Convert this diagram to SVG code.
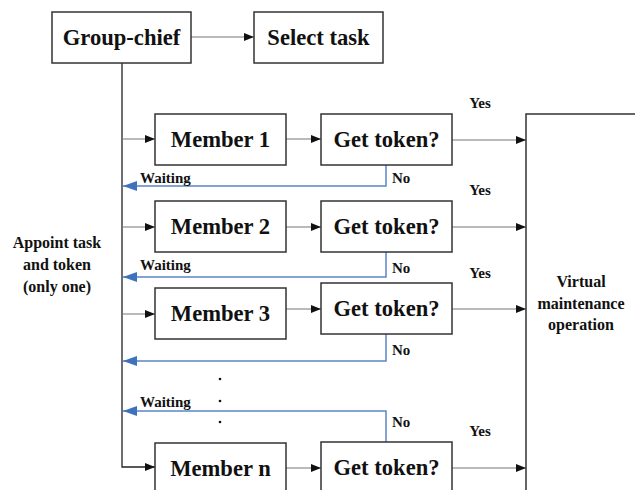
<svg xmlns="http://www.w3.org/2000/svg" width="635" height="490" viewBox="0 0 635 490">
<defs>
<style>
.box{fill:#fff;stroke:#333;stroke-width:1.5}
text{font-family:'Liberation Serif','Times New Roman','DejaVu Serif',serif;font-weight:bold;fill:#111}
.big{font-size:22.6px}
.sm{font-size:15px}
.lbl{font-size:16px}
.ln{fill:none;stroke:#777;stroke-width:1.2}
.vl{fill:none;stroke:#222;stroke-width:1.3}
.bl{fill:none;stroke:#5b87c5;stroke-width:1.5}
</style>
<marker id="ah" viewBox="0 0 10 8" refX="10" refY="4" markerWidth="10" markerHeight="8" markerUnits="userSpaceOnUse" orient="auto"><path d="M0,0 L10,4 L0,8 Z" fill="#111"/></marker>
<marker id="bh" viewBox="0 0 14 10" refX="14" refY="5" markerWidth="14" markerHeight="10" markerUnits="userSpaceOnUse" orient="auto"><path d="M0,0 L14,5 L0,10 Z" fill="#3f72bd"/></marker>
</defs>
<rect width="635" height="490" fill="#fff"/>
<g id="connectors">
<line class="ln" x1="191" y1="37" x2="254" y2="37" marker-end="url(#ah)"/>
<polyline class="vl" points="122,63 122,467 155,467" marker-end="url(#ah)"/>
<line class="ln" x1="122" y1="139" x2="155" y2="139" marker-end="url(#ah)"/>
<line class="ln" x1="122" y1="227" x2="155" y2="227" marker-end="url(#ah)"/>
<line class="ln" x1="122" y1="314" x2="155" y2="314" marker-end="url(#ah)"/>
<line class="ln" x1="286" y1="139" x2="321" y2="139" marker-end="url(#ah)"/>
<line class="ln" x1="286" y1="227" x2="321" y2="227" marker-end="url(#ah)"/>
<line class="ln" x1="286" y1="309" x2="321" y2="309" marker-end="url(#ah)"/>
<line class="ln" x1="286" y1="468" x2="321" y2="468" marker-end="url(#ah)"/>
<line class="ln" x1="452" y1="140" x2="526" y2="140" marker-end="url(#ah)"/>
<line class="ln" x1="452" y1="227" x2="526" y2="227" marker-end="url(#ah)"/>
<line class="ln" x1="452" y1="309" x2="526" y2="309" marker-end="url(#ah)"/>
<line class="ln" x1="452" y1="468" x2="526" y2="468" marker-end="url(#ah)"/>
<polyline class="bl" points="386,165 386,186 123,186" marker-end="url(#bh)"/>
<polyline class="bl" points="386,252 386,277 123,277" marker-end="url(#bh)"/>
<polyline class="bl" points="386,334 386,361 123,361" marker-end="url(#bh)"/>
<polyline class="bl" points="386,442 386,411 123,411" marker-end="url(#bh)"/>
</g>
<g id="group-chief"><rect class="box" x="52" y="12" width="139" height="51"/><text class="big" x="121.5" y="45" text-anchor="middle">Group-chief</text></g>
<g id="select-task"><rect class="box" x="254" y="12" width="129" height="51"/><text class="big" x="318.5" y="45" text-anchor="middle">Select task</text></g>
<g id="member1"><rect class="box" x="155" y="114" width="131" height="51"/><text class="big" x="220.5" y="147" text-anchor="middle">Member 1</text></g>
<g id="member2"><rect class="box" x="155" y="201" width="131" height="51"/><text class="big" x="220.5" y="234" text-anchor="middle">Member 2</text></g>
<g id="member3"><rect class="box" x="155" y="288" width="131" height="51"/><text class="big" x="220.5" y="321" text-anchor="middle">Member 3</text></g>
<g id="membern"><rect class="box" x="155" y="443" width="131" height="60"/><text class="big" x="220.5" y="476" text-anchor="middle">Member n</text></g>
<g id="token1"><rect class="box" x="321" y="114" width="131" height="51"/><text class="big" x="386.5" y="147" text-anchor="middle">Get token?</text></g>
<g id="token2"><rect class="box" x="321" y="201" width="131" height="51"/><text class="big" x="386.5" y="234" text-anchor="middle">Get token?</text></g>
<g id="token3"><rect class="box" x="321" y="283" width="131" height="51"/><text class="big" x="386.5" y="316" text-anchor="middle">Get token?</text></g>
<g id="tokenn"><rect class="box" x="321" y="442" width="131" height="60"/><text class="big" x="386.5" y="475" text-anchor="middle">Get token?</text></g>
<g id="virtual"><rect class="box" x="526" y="114" width="120" height="400"/>
<text class="lbl" x="581" y="287" text-anchor="middle">Virtual</text>
<text class="lbl" x="581" y="309" text-anchor="middle">maintenance</text>
<text class="lbl" x="581" y="330" text-anchor="middle">operation</text></g>
<g id="appoint">
<text class="lbl" x="57" y="248" text-anchor="middle">Appoint task</text>
<text class="lbl" x="57" y="270" text-anchor="middle">and token</text>
<text class="lbl" x="57" y="292" text-anchor="middle">(only one)</text></g>
<g id="labels">
<text class="sm" x="480" y="108" text-anchor="middle">Yes</text>
<text class="sm" x="480" y="195" text-anchor="middle">Yes</text>
<text class="sm" x="480" y="278" text-anchor="middle">Yes</text>
<text class="sm" x="480" y="436" text-anchor="middle">Yes</text>
<text class="sm" x="392" y="183">No</text>
<text class="sm" x="392" y="273">No</text>
<text class="sm" x="392" y="355">No</text>
<text class="sm" x="392" y="427">No</text>
<text class="sm" x="140" y="183">Waiting</text>
<text class="sm" x="140" y="270">Waiting</text>
<text class="sm" x="140" y="407">Waiting</text>
<circle cx="220" cy="379" r="1.3" fill="#111"/>
<circle cx="220" cy="401" r="1.3" fill="#111"/>
<circle cx="220" cy="422" r="1.3" fill="#111"/>
</g>
</svg>
